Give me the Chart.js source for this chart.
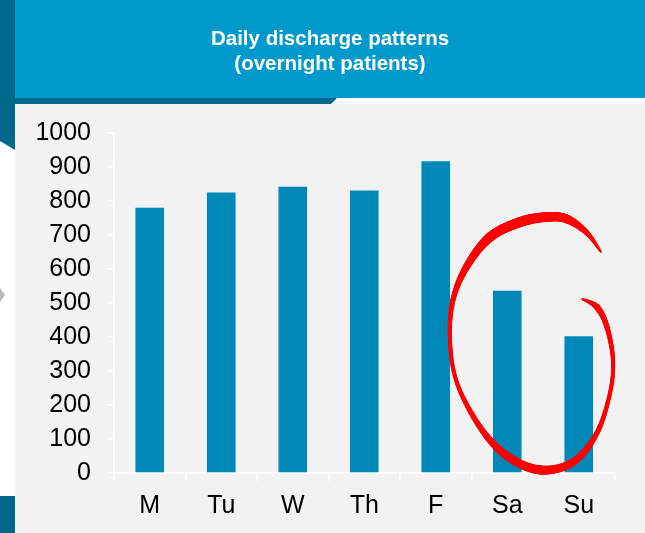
<!DOCTYPE html>
<html><head><meta charset="utf-8">
<script src="https://cdn.jsdelivr.net/npm/chart.js@4/dist/chart.umd.min.js"></script>
<style>html,body{margin:0;padding:0;background:#fff;overflow:hidden}canvas{display:block}</style>
</head><body>
<canvas id="c" width="645" height="533"></canvas>
<script>
// ---- data ----
const categories = ['M', 'Tu', 'W', 'Th', 'F', 'Sa', 'Su'];
const discharges = [780, 825, 842, 831, 917, 536, 402];
const yTickValues = [0, 100, 200, 300, 400, 500, 600, 700, 800, 900, 1000];
const titleLines = ['Daily discharge patterns', '(overnight patients)'];
// hand-drawn highlight around the weekend bars, in (category index, value, stroke width)
const highlightPath = [
  [6.311,650,1.5],[6.115,706,5],[5.836,747,8.5],[5.556,753,9.5],[5.178,738,10],[4.759,694,9.5],
  [4.437,609,7],[4.241,509,5],[4.199,391,4],[4.297,265,4],[4.619,135,5.5],[4.997,50,8],
  [5.458,9,9],[5.920,32,7.5],[6.255,118,5],[6.437,235,4],[6.479,332,4],[6.395,429,5],
  [6.255,488,6],[6.045,512,1.5]
];

const FONT = '"Liberation Sans", Arial, sans-serif';

const backgroundPlugin = {
  id: 'bg',
  beforeDraw(chart) {
    const ctx = chart.ctx, W = chart.width, H = chart.height;
    ctx.save();
    ctx.fillStyle = '#ffffff'; ctx.fillRect(0, 0, W, H);
    // header band
    ctx.fillStyle = '#0099cc'; ctx.fillRect(15, 0, W - 15, 98);
    // dark left strip + wedge
    ctx.fillStyle = '#00688b';
    ctx.beginPath(); ctx.moveTo(0, 0); ctx.lineTo(15, 0); ctx.lineTo(15, 150); ctx.lineTo(0, 141); ctx.closePath(); ctx.fill();
    // dark strip under header
    ctx.beginPath(); ctx.moveTo(15, 98); ctx.lineTo(337, 98); ctx.lineTo(331, 104); ctx.lineTo(15, 104); ctx.closePath(); ctx.fill();
    // bottom-left block
    ctx.fillRect(0, 496, 15, H - 496);
    // panel
    ctx.fillStyle = '#f2f2f2'; ctx.fillRect(15, 104, W - 15, H - 104);
    // small grey arrow
    ctx.fillStyle = '#b8b8b8';
    ctx.beginPath(); ctx.moveTo(0, 288); ctx.lineTo(5, 295); ctx.lineTo(0, 302); ctx.closePath(); ctx.fill();
    ctx.restore();
  }
};

const highlightPlugin = {
  id: 'highlight',
  afterDatasetsDraw(chart) {
    const xs = chart.scales.x, ys = chart.scales.y, ctx = chart.ctx;
    const P = highlightPath.map(p => [xs.getPixelForValue(p[0]), ys.getPixelForValue(p[1]), p[2]]);
    ctx.save();
    ctx.strokeStyle = '#ff0000'; ctx.lineCap = 'round';
    const n = P.length, steps = 24;
    let prev = null;
    for (let i = 0; i < n - 1; i++) {
      const p0 = P[Math.max(0, i - 1)], p1 = P[i], p2 = P[i + 1], p3 = P[Math.min(n - 1, i + 2)];
      for (let s = 0; s <= steps; s++) {
        const t = s / steps, t2 = t * t, t3 = t2 * t;
        const x = 0.5 * ((2 * p1[0]) + (-p0[0] + p2[0]) * t + (2 * p0[0] - 5 * p1[0] + 4 * p2[0] - p3[0]) * t2 + (-p0[0] + 3 * p1[0] - 3 * p2[0] + p3[0]) * t3);
        const y = 0.5 * ((2 * p1[1]) + (-p0[1] + p2[1]) * t + (2 * p0[1] - 5 * p1[1] + 4 * p2[1] - p3[1]) * t2 + (-p0[1] + 3 * p1[1] - 3 * p2[1] + p3[1]) * t3);
        const w = p1[2] + (p2[2] - p1[2]) * t;
        if (prev) {
          ctx.lineWidth = w;
          ctx.beginPath(); ctx.moveTo(prev[0], prev[1]); ctx.lineTo(x, y); ctx.stroke();
        }
        prev = [x, y];
      }
    }
    ctx.restore();
  }
};

new Chart(document.getElementById('c'), {
  type: 'bar',
  data: {
    labels: categories,
    datasets: [{
      data: discharges,
      backgroundColor: '#0088b9',
      borderWidth: 0,
      barPercentage: 0.4,
      categoryPercentage: 1.0
    }]
  },
  options: {
    responsive: false,
    animation: false,
    devicePixelRatio: 1,
    layout: { padding: { left: 15, right: 0, top: 0, bottom: 0 } },
    plugins: {
      legend: { display: false },
      tooltip: { enabled: false },
      title: {
        display: true,
        text: titleLines,
        color: '#ffffff',
        font: { family: FONT, size: 20.5, weight: 'bold', lineHeight: 25 / 20.5 },
        padding: { top: 27, bottom: 56 }
      }
    },
    scales: {
      x: {
        grid: { display: true, drawOnChartArea: false, offset: true, color: '#ffffff', tickLength: 8, lineWidth: 1.5 },
        border: { display: true, color: '#ffffff', width: 1.5 },
        ticks: { color: '#000000', font: { family: FONT, size: 25 }, padding: 10, maxRotation: 0 },
        afterFit(s) { s.height = 60; }
      },
      y: {
        min: 0, max: 1000,
        afterBuildTicks(s) { s.ticks = yTickValues.map(v => ({ value: v })); },
        grid: { display: true, drawOnChartArea: false, color: '#ffffff', tickLength: 6, lineWidth: 1.5 },
        border: { display: true, color: '#ffffff', width: 1.5 },
        ticks: { color: '#000000', font: { family: FONT, size: 25 }, padding: 17, callback: v => String(v) },
        afterFit(s) { s.width = 99; }
      },
      spacer: {
        type: 'linear', position: 'right', display: true,
        grid: { display: false, drawTicks: false }, border: { display: false },
        ticks: { display: false },
        afterFit(s) { s.width = 30.5; }
      }
    }
  },
  plugins: [backgroundPlugin, highlightPlugin]
});
</script>
</body></html>
